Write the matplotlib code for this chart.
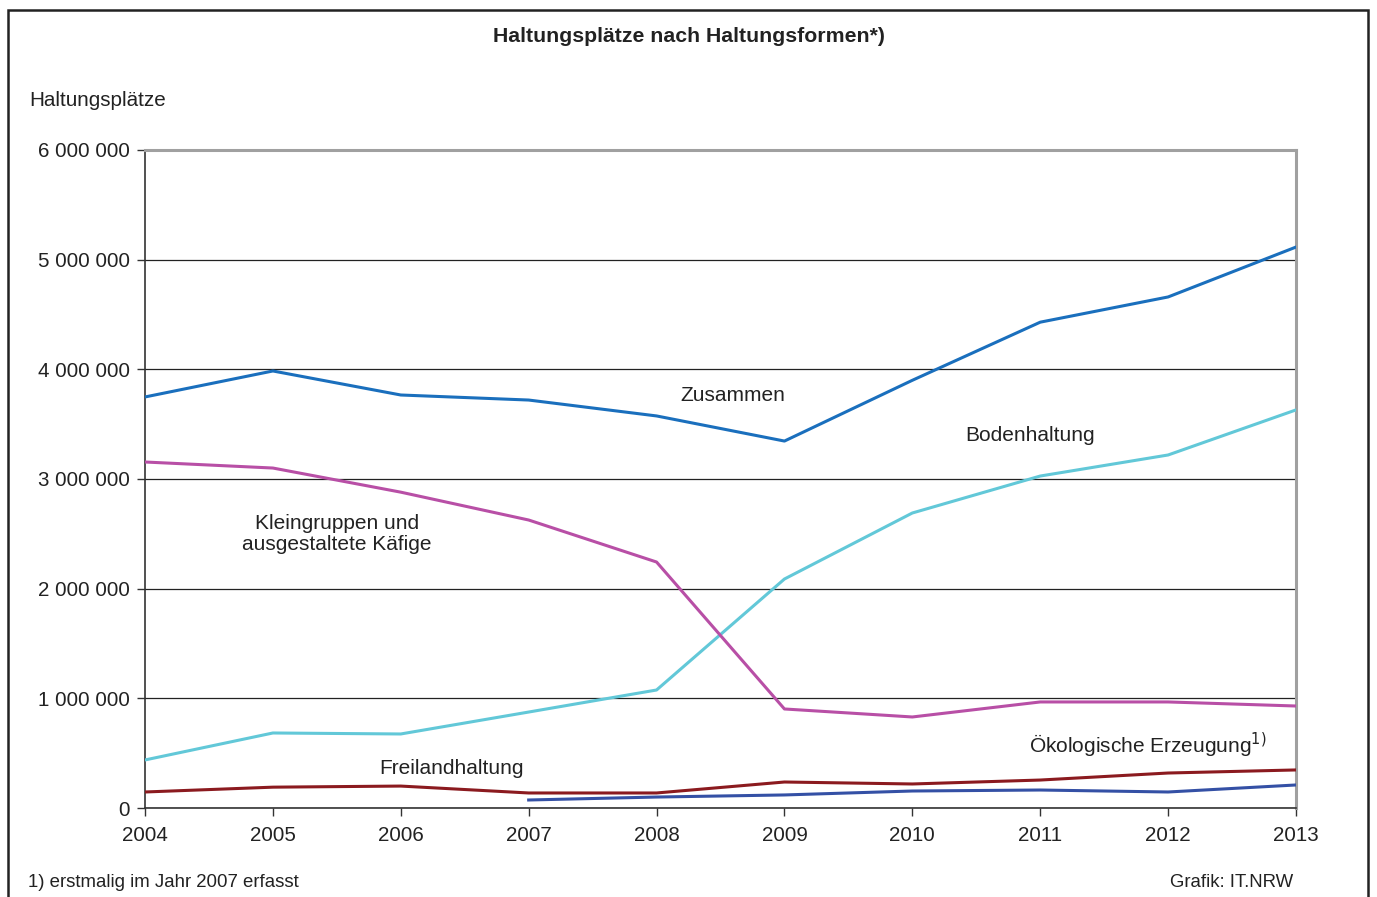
import matplotlib
matplotlib.use("Agg")
import matplotlib.pyplot as plt
from matplotlib.patches import Rectangle

plt.rcParams['font.family'] = ['Liberation Sans', 'DejaVu Sans']

years = [2004, 2005, 2006, 2007, 2008, 2009, 2010, 2011, 2012, 2013]
zusammen = [3748000, 3985000, 3766000, 3720000, 3575000, 3346000, 3900000, 4430000, 4660000, 5115000]
bodenhaltung = [438000, 684000, 675000, 875000, 1076000, 2088000, 2690000, 3027000, 3219000, 3630000]
kleingruppen = [3155000, 3100000, 2880000, 2626000, 2243000, 903000, 830000, 967000, 967000, 930000]
freiland = [146000, 190000, 200000, 137000, 137000, 237000, 219000, 255000, 319000, 347000]
oeko_years = [2007, 2008, 2009, 2010, 2011, 2012, 2013]
oeko = [73000, 100000, 119000, 155000, 164000, 146000, 210000]

yticks = [0, 1000000, 2000000, 3000000, 4000000, 5000000, 6000000]
ytick_labels = ["0", "1 000 000", "2 000 000", "3 000 000", "4 000 000", "5 000 000", "6 000 000"]

W, H = 1377, 897
fig = plt.figure(figsize=(W / 100, H / 100), dpi=100)
fig.patch.set_facecolor("white")

# outer frame
fig.add_artist(Rectangle((8 / W, -0.05), (1368 - 8) / W, (H - 10) / H + 0.05,
                         transform=fig.transFigure, fill=False,
                         edgecolor="#222222", linewidth=1.8))

ax = fig.add_axes([145 / W, (H - 808) / H, (1296 - 145) / W, (808 - 150) / H])

lw = 2.2
ax.plot(years, zusammen, color="#1a6fbd", lw=lw, zorder=3)
ax.plot(years, bodenhaltung, color="#62c8d8", lw=lw, zorder=3)
ax.plot(years, kleingruppen, color="#b84fa6", lw=lw, zorder=3)
ax.plot(years, freiland, color="#8b1a1f", lw=lw, zorder=3)
ax.plot(oeko_years, oeko, color="#3450a5", lw=lw, zorder=3)

ax.set_xlim(2004, 2013)
ax.set_ylim(0, 6000000)
ax.set_yticks(yticks)
ax.set_yticklabels(ytick_labels)
ax.set_xticks(years)
ax.set_xticklabels([str(y) for y in years])
ax.grid(axis="y", color="#222222", lw=0.9, zorder=1)
ax.set_axisbelow(True)

for s in ["left", "bottom"]:
    ax.spines[s].set_color("#333333")
    ax.spines[s].set_linewidth(1.2)
for s in ["top", "right"]:
    ax.spines[s].set_color("#a0a0a0")
    ax.spines[s].set_linewidth(2.2)

ax.tick_params(axis="both", direction="out", length=6, width=1, color="#333333",
               labelsize=14.8, labelcolor="#222222")
ax.tick_params(axis="y", pad=5)
ax.tick_params(axis="x", pad=7)

tc = "#222222"
fs = 15
ax.text(2008.6, 3.76e6, "Zusammen", fontsize=fs, color=tc, ha="center", va="center")
ax.text(2010.92, 3.4e6, "Bodenhaltung", fontsize=fs, color=tc, ha="center", va="center")
ax.text(2005.5, 2.5e6, "Kleingruppen und\nausgestaltete Käfige", fontsize=fs, color=tc,
        ha="center", va="center", linespacing=1.1)
ax.text(2006.4, 0.36e6, "Freilandhaltung", fontsize=fs, color=tc, ha="center", va="center")
ax.text(2012.77, 0.57e6, "Ökologische Erzeugung$^{1)}$", fontsize=fs, color=tc,
        ha="right", va="center")

fig.text(689 / W, 1 - 37 / H, "Haltungsplätze nach Haltungsformen*)", fontsize=15.3,
         fontweight="bold", color=tc, ha="center", va="center")
fig.text(29 / W, 1 - 101 / H, "Haltungsplätze", fontsize=14.9, color=tc, ha="left", va="center")
fig.text(28 / W, 1 - 882 / H, "1) erstmalig im Jahr 2007 erfasst", fontsize=13.4, color=tc,
         ha="left", va="center")
fig.text(1293 / W, 1 - 882 / H, "Grafik: IT.NRW", fontsize=13.4, color=tc,
         ha="right", va="center")

fig.savefig("out.png", dpi=100)
